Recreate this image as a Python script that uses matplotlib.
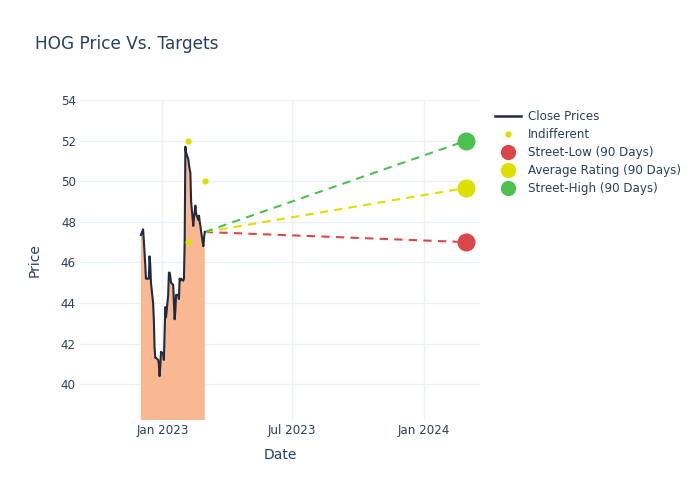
import matplotlib
matplotlib.use("Agg")
import matplotlib.pyplot as plt
import matplotlib.dates as mdates
from matplotlib.lines import Line2D
import pandas as pd

# === Data ===
close_start = "2022-12-02"
close_prices = [
    47.35, 47.63, 47.1, 46.5, 45.9, 45.2, 45.2, 45.2, 46.3, 45.9,
    45.0, 44.0, 43.2, 41.8, 41.3, 41.3, 41.2, 41.0, 40.4, 40.9,
    41.6, 41.5, 41.2, 42.5, 43.8, 43.3, 44.4, 45.5, 45.5, 45.3,
    45.0, 44.9, 44.0, 43.2, 43.6, 44.4, 44.4, 44.2, 45.2, 45.1,
    45.2, 45.1, 45.2, 47.0, 51.7, 51.4, 51.1, 50.8, 50.6, 50.4,
    49.0, 47.8, 48.2, 48.5, 48.8, 48.4, 48.1, 48.3, 48.0, 47.8,
    47.5, 46.8, 47.2, 47.5,
]
indiff_dates = ["2023-02-06", "2023-02-06", "2023-03-01"]
indiff_values = [52.0, 47.0, 50.0]
target_date = "2024-02-29"
target_names = ["Street-Low (90 Days)", "Average Rating (90 Days)", "Street-High (90 Days)"]
target_values = [47.0, 49.67, 52.0]
target_colors = ["#d9474b", "#dede00", "#4cc050"]

dates = pd.bdate_range(close_start, periods=len(close_prices))
indiff_dates = pd.to_datetime(indiff_dates)
target_date = pd.Timestamp(target_date)

TEXT = "#2a3f5f"
GRID = "#ebf0f8"

fig = plt.figure(figsize=(7, 5), dpi=100)
ax = fig.add_axes([80 / 700, 80 / 500, 400 / 700, 320 / 500])

ax.fill_between(dates, close_prices, 0, color="#f9b792", linewidth=0, zorder=1)
ax.plot(dates, close_prices, color="#222a40", linewidth=1.5, zorder=3)

last_date, last_price = dates[-1], close_prices[-1]
for val, col in zip(target_values, target_colors):
    ax.plot([last_date, target_date], [last_price, val], color=col,
            linestyle=(0, (4, 3)), linewidth=1.5, zorder=2)
    ax.plot([target_date], [val], "o", color=col, markersize=13,
            markeredgewidth=0, zorder=4)

ax.plot(indiff_dates, indiff_values, "o", color="#dede00", markersize=4.5,
        markeredgewidth=0, zorder=4)

ax.set_xlim(pd.Timestamp("2022-09-08"), pd.Timestamp("2024-03-19"))
ax.set_ylim(38.24, 54)
ax.set_yticks(range(40, 55, 2))
ax.set_xticks(pd.to_datetime(["2023-01-01", "2023-07-01", "2024-01-01"]))
ax.xaxis.set_major_formatter(mdates.DateFormatter("%b %Y"))
ax.grid(True, color=GRID, linewidth=1)
ax.set_axisbelow(True)
for s in ax.spines.values():
    s.set_visible(False)
ax.tick_params(length=0, colors=TEXT, labelsize=8.6, pad=3)
ax.set_xlabel("Date", color=TEXT, fontsize=10, labelpad=8)
ax.set_ylabel("Price", color=TEXT, fontsize=10, labelpad=14)

fig.text(35 / 700, 1 - 44 / 500, "HOG Price Vs. Targets", color=TEXT,
         fontsize=12.2, va="center", ha="left")

handles = [
    Line2D([], [], color="#222a40", linewidth=1.8),
    Line2D([], [], marker="o", linestyle="", color="#dede00", markersize=4.5, markeredgewidth=0),
]
labels = ["Close Prices", "Indifferent"]
for name, col in zip(target_names, target_colors):
    handles.append(Line2D([], [], marker="o", linestyle="", color=col, markersize=11, markeredgewidth=0))
    labels.append(name)
leg = fig.legend(handles, labels, loc="upper left", bbox_to_anchor=(490 / 700, 1 - 105 / 500),
                 frameon=False, fontsize=8.6, labelspacing=0.42, handlelength=2.2,
                 handletextpad=0.6, borderaxespad=0)
for t in leg.get_texts():
    t.set_color(TEXT)

fig.savefig("out.png", dpi=100)
